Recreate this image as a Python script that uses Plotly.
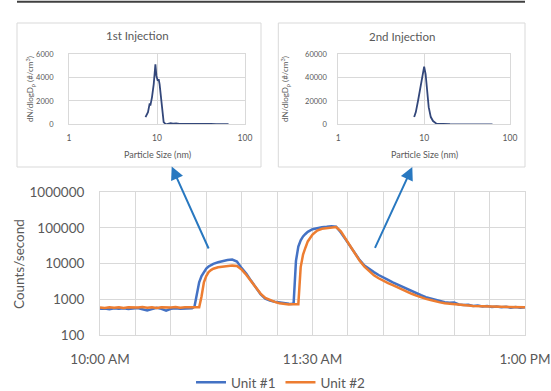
import pandas as pd
import plotly.graph_objects as go

W, H = 551, 391

# ---------------- data ----------------
minutes = ([0, 2, 4, 6, 8, 10, 12, 14, 16, 18, 20, 22, 24, 26, 28, 30, 32, 34, 36, 38]
           + [39, 40, 41, 42, 43, 44, 45, 46, 47, 48]
           + [50, 52, 54, 56, 58, 60, 62, 64, 66, 68, 70, 72, 74, 76, 78, 80]
           + [81, 82, 83, 84, 85, 86, 87, 88]
           + list(range(90, 181, 2)))

unit1_counts = [540, 555, 530, 565, 545, 560, 535, 550, 570, 525, 490, 530, 575, 540, 480, 545, 560, 540, 555, 550,
                560, 620, 1500, 3000, 4500, 6000, 7300, 8300, 9200, 9900,
                10900, 11800, 12600, 13000, 11500, 7500, 5200, 3300, 2100, 1400, 1050, 920, 860, 810, 770, 750,
                740, 760, 12000, 30000, 45000, 58000, 68000, 78000,
                92000, 100000, 105000, 108000, 112000, 108000, 75000, 48000, 31000, 19500,
                12500, 8800, 7000, 5800, 4800, 4000, 3500, 3000, 2600, 2200,
                1900, 1650, 1450, 1300, 1150, 1050, 950, 880, 830, 800,
                810, 720, 690, 700, 650, 670, 630, 645, 610, 625,
                600, 615, 585, 605, 580, 600]

unit2_counts = [590, 575, 600, 580, 595, 570, 600, 585, 590, 605, 580, 595, 575, 600, 585, 590, 610, 580, 595, 590,
                585, 590, 595, 600, 1200, 3000, 4500, 5800, 6600, 7200,
                7900, 8300, 8500, 8800, 8600, 6800, 4800, 3200, 2100, 1450, 1100, 950, 850, 780, 740, 720,
                725, 715, 720, 730, 8000, 18000, 28000, 42000,
                65000, 85000, 95000, 100000, 104000, 106000, 80000, 50000, 32000, 20000,
                12000, 8300, 6200, 4700, 3900, 3300, 2850, 2500, 2150, 1850,
                1620, 1430, 1270, 1130, 1030, 960, 880, 820, 780, 750,
                720, 700, 680, 670, 650, 645, 620, 640, 615, 625,
                600, 610, 590, 605, 580, 595]

series_names = ["Unit #1", "Unit #2"]

y_tick_values = [100, 1000, 10000, 100000, 1000000]
y_tick_labels = ["100", "1000", "10000", "100000", "1000000"]
label_minutes = [0, 90, 180]
label_texts = ["10:00 AM", "11:30 AM", "1:00 PM"]

inj1_size = [7.4, 7.9, 8.26, 8.4, 8.77, 9.18, 9.59, 9.85, 10.2, 10.45, 10.7, 11.1, 11.4, 11.9, 12.6,
             13.5, 14.3, 15.2, 16.5, 18, 20, 22.5, 25, 28, 32, 36, 41, 47, 54, 62, 65]
inj1_dn = [620, 1040, 1800, 1600, 2310, 3450, 5140, 4150, 3730, 3870, 3450, 2310, 1190, 195, 0,
           40, 90, 60, 80, 30, 50, 20, 40, 25, 45, 15, 30, 20, 25, 10, 15]

inj2_size = [7.65, 8.0, 8.5, 9.08, 9.58, 10.0, 10.4, 10.8, 11.3, 11.95, 12.7, 13.9, 16, 20, 25, 30, 40, 50, 62.5]
inj2_dn = [6200, 10500, 20400, 31700, 43100, 49400, 43100, 28900, 14700, 6200, 2800, 600, 200, 50, 0, 0, 0, 0, 0]

inset_titles = ["1st Injection", "2nd Injection"]
size_ticks = [1, 10, 100]
size_tick_labels = ["1", "10", "100"]
inj1_ticks = [0, 2000, 4000, 6000]
inj1_tick_labels = ["0", "2000", "4000", "6000"]
inj2_ticks = [0, 20000, 40000, 60000]
inj2_tick_labels = ["0", "20000", "40000", "60000"]

# ---------------- helpers ----------------
base = pd.Timestamp("2020-01-01 10:00:00")
times = base + pd.to_timedelta(minutes, unit="min")
grid_times = pd.date_range(base, base + pd.Timedelta(minutes=180), freq="15min")
label_times = [base + pd.Timedelta(minutes=m) for m in label_minutes]


def px(x):
    return x / W


def py(y):
    return 1 - y / H


FONT = "Lato, 'Open Sans', sans-serif"
GRAY = "#595959"
GRID = "#d9d9d9"

fig = go.Figure()
fig.add_trace(go.Scatter(x=times, y=unit1_counts, mode="lines", name=series_names[0],
                         line=dict(color="#4472C4", width=2.5), xaxis="x", yaxis="y"))
fig.add_trace(go.Scatter(x=times, y=unit2_counts, mode="lines", name=series_names[1],
                         line=dict(color="#ED7D31", width=2.5), xaxis="x", yaxis="y"))
fig.add_trace(go.Scatter(x=inj1_size, y=inj1_dn, mode="lines", showlegend=False,
                         line=dict(color="#33477a", width=1.8), xaxis="x2", yaxis="y2"))
fig.add_trace(go.Scatter(x=inj2_size, y=inj2_dn, mode="lines", showlegend=False,
                         line=dict(color="#33477a", width=1.8), xaxis="x3", yaxis="y3"))

axis_common = dict(showgrid=True, gridcolor=GRID, gridwidth=1, zeroline=False, automargin=False,
                   showline=True, linecolor=GRID, linewidth=1, mirror=True, ticks="")

fig.update_layout(
    width=W, height=H,
    margin=dict(l=0, r=0, t=0, b=0, autoexpand=False),
    paper_bgcolor="white", plot_bgcolor="white",
    font=dict(family=FONT, color=GRAY),
    xaxis=dict(domain=[px(100), px(525)], anchor="y", type="date",
               range=[grid_times[0], grid_times[-1]],
               tickmode="array", tickvals=label_times, ticktext=label_texts,
               minor=dict(tickmode="array", tickvals=list(grid_times), showgrid=True,
                          gridcolor=GRID, gridwidth=1, ticks=""),
               tickfont=dict(size=13.5, color=GRAY), ticklabelstandoff=12, **axis_common),
    yaxis=dict(domain=[py(335), py(192.3)], anchor="x", type="log", range=[2, 6],
               tickmode="array", tickvals=y_tick_values, ticktext=y_tick_labels,
               tickfont=dict(size=13.5, color=GRAY), ticklabelstandoff=12, **axis_common),
    xaxis2=dict(domain=[px(69), px(245)], anchor="y2", type="log", range=[0, 2],
                tickmode="array", tickvals=size_ticks, ticktext=size_tick_labels,
                tickfont=dict(size=8.5, color=GRAY), ticklabelstandoff=5, **axis_common),
    yaxis2=dict(domain=[py(124.3), py(54.3)], anchor="x2", range=[0, 6000],
                tickmode="array", tickvals=inj1_ticks, ticktext=inj1_tick_labels,
                tickfont=dict(size=7.5, color=GRAY), ticklabelstandoff=13, **axis_common),
    xaxis3=dict(domain=[px(338.3), px(510)], anchor="y3", type="log", range=[0, 2],
                tickmode="array", tickvals=size_ticks, ticktext=size_tick_labels,
                tickfont=dict(size=8.5, color=GRAY), ticklabelstandoff=5, **axis_common),
    yaxis3=dict(domain=[py(124.3), py(54.3)], anchor="x3", range=[0, 60000],
                tickmode="array", tickvals=inj2_ticks, ticktext=inj2_tick_labels,
                tickfont=dict(size=7.5, color=GRAY), ticklabelstandoff=9, **axis_common),
    legend=dict(orientation="h", x=0.51, xanchor="center", y=py(382.5), yanchor="middle",
                font=dict(size=13.5, color=GRAY), bgcolor="rgba(0,0,0,0)",
                itemwidth=30, tracegroupgap=0),
    showlegend=True,
)

# inset boxes and top rule
fig.add_shape(type="rect", xref="paper", yref="paper", x0=px(17), x1=px(261), y0=py(167), y1=py(23),
              line=dict(color=GRID, width=1), fillcolor="white", layer="below")
fig.add_shape(type="rect", xref="paper", yref="paper", x0=px(278.3), x1=px(525), y0=py(167), y1=py(23),
              line=dict(color=GRID, width=1), fillcolor="white", layer="below")
fig.add_shape(type="line", xref="paper", yref="paper", x0=px(17), x1=px(525), y0=py(1.8), y1=py(1.8),
              line=dict(color="#404040", width=2))

ann = []
ann.append(dict(text=inset_titles[0], x=px(137), y=py(35.5), xref="paper", yref="paper", showarrow=False,
                font=dict(size=11.5, color=GRAY), xanchor="center", yanchor="middle"))
ann.append(dict(text=inset_titles[1], x=px(402), y=py(36), xref="paper", yref="paper", showarrow=False,
                font=dict(size=11.5, color=GRAY), xanchor="center", yanchor="middle"))
for xc in (157, 424):
    ann.append(dict(text="Particle Size (nm)", x=px(xc), y=py(154), xref="paper", yref="paper",
                    showarrow=False, font=dict(size=9, color=GRAY), xanchor="center", yanchor="middle"))
for xc in (30, 285):
    ann.append(dict(text="dN/dlogD<sub>p</sub> (#/cm<sup>3</sup>)", x=px(xc), y=py(89), xref="paper",
                    yref="paper", showarrow=False, textangle=-90, font=dict(size=8, color=GRAY),
                    xanchor="center", yanchor="middle"))
ann.append(dict(text="Counts/second", x=px(19), y=py(264), xref="paper", yref="paper", showarrow=False,
                textangle=-90, font=dict(size=13.5, color=GRAY), xanchor="center", yanchor="middle"))
ARROW = "#2878c0"
ann.append(dict(x=px(171.7), y=py(166.5), xref="paper", yref="paper", ax=37.6, ay=83.5,
                axref="pixel", ayref="pixel", showarrow=True, arrowhead=2, arrowsize=1.3,
                arrowwidth=2, arrowcolor=ARROW, text=""))
ann.append(dict(x=px(412.3), y=py(167), xref="paper", yref="paper", ax=-38, ay=82.3,
                axref="pixel", ayref="pixel", showarrow=True, arrowhead=2, arrowsize=1.3,
                arrowwidth=2, arrowcolor=ARROW, text=""))
fig.update_layout(annotations=ann)

fig.write_html("out.html", config={"displayModeBar": False},
               post_script="document.body.style.margin='0';")
